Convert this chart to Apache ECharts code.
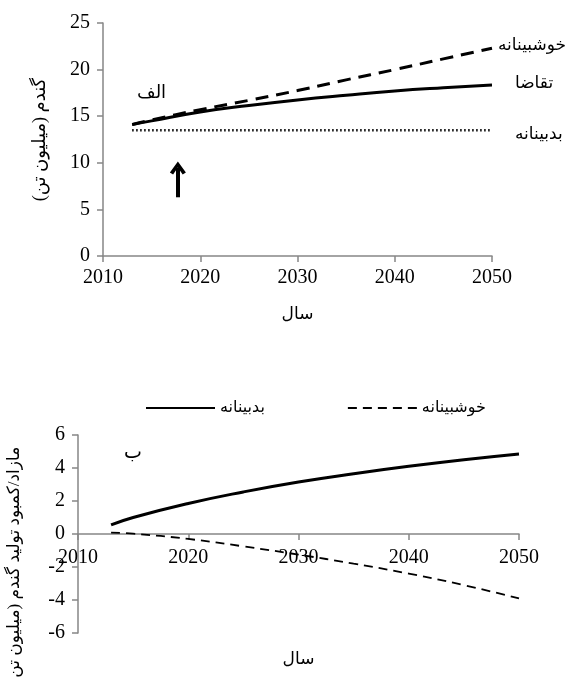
<!DOCTYPE html>
<html><head><meta charset="utf-8">
<script src="https://cdn.jsdelivr.net/npm/echarts@6/dist/echarts.min.js"></script>
<style>html,body{margin:0;padding:0;background:#fff}#c{width:570px;height:678px}</style>
</head><body><div id="c"></div>
<script>
// ---- data ----
const years = [2013, 2015, 2020, 2025, 2030, 2035, 2040, 2045, 2050];
const demand = [14.1, 14.5, 15.45, 16.15, 16.75, 17.25, 17.7, 18.05, 18.35];
const optimistic = [14.1, 14.6, 15.7, 16.7, 17.75, 18.9, 20.0, 21.15, 22.3];
const pessimistic = [13.5, 13.5, 13.5, 13.5, 13.5, 13.5, 13.5, 13.5, 13.5];
const gapPessimistic = [0.55, 1.0, 1.85, 2.55, 3.15, 3.65, 4.1, 4.5, 4.85];
const gapOptimistic = [0.08, 0.02, -0.3, -0.75, -1.25, -1.8, -2.4, -3.1, -3.9];
const labelOptimistic = 'خوشبینانه';
const labelDemand = 'تقاضا';
const labelPessimistic = 'بدبینانه';
const xName = 'سال';
const yNameTop = 'گندم (میلیون تن)';
const yNameBottom = 'مازاد/کمبود تولید گندم (میلیون تن)';
const panelA = 'الف';
const panelB = 'ب';
const arrowFrom = [2017.7, 6.3];
const arrowTo = [2017.7, 9.45];

const pairs = (xs, ys) => xs.map((x, i) => [x, ys[i]]);
const NUM = "'Liberation Serif', 'DejaVu Serif', serif";
const AR = "'Liberation Serif', 'DejaVu Sans', sans-serif";
const axisGray = '#868686';

function xAxisCfg(gridIndex, nameGap, margin, offset) {
  return {
    type: 'value', gridIndex, min: 2010, max: 2050, interval: 10,
    offset,
    axisLine: { show: true, onZero: false, lineStyle: { color: axisGray, width: 1.5 } },
    axisTick: { show: true, length: 6, lineStyle: { color: axisGray, width: 1.5 } },
    axisLabel: { color: '#000', fontFamily: NUM, fontSize: 20, margin, hideOverlap: false, formatter: v => String(v) },
    splitLine: { show: false },
    name: xName, nameLocation: 'middle', nameGap,
    nameTextStyle: { color: '#000', fontFamily: AR, fontSize: 17 }
  };
}

const chart = echarts.init(document.getElementById('c'));
chart.setOption({
  animation: false,
  backgroundColor: '#fff',
  grid: [
    { left: 103, top: 23, width: 389, height: 233, outerBoundsMode: 'none', containLabel: false },
    { left: 78, top: 435, width: 441, height: 198, outerBoundsMode: 'none', containLabel: false }
  ],
  xAxis: [
    xAxisCfg(0, 50, 12, 0),
    xAxisCfg(1, 117, 14, -99)
  ],
  yAxis: [
    {
      type: 'value', gridIndex: 0, min: 0, max: 25, interval: 5,
      axisLine: { show: true, lineStyle: { color: axisGray, width: 1.5 } },
      axisTick: { show: true, length: 6, lineStyle: { color: axisGray, width: 1.5 } },
      axisLabel: { color: '#000', fontFamily: NUM, fontSize: 20, margin: 13 },
      splitLine: { show: false },
      name: yNameTop, nameLocation: 'middle', nameGap: 54, nameRotate: 90,
      nameTextStyle: { color: '#000', fontFamily: AR, fontSize: 18 }
    },
    {
      type: 'value', gridIndex: 1, min: -6, max: 6, interval: 2,
      axisLine: { show: true, onZero: false, lineStyle: { color: axisGray, width: 1.5 } },
      axisTick: { show: true, length: 6, lineStyle: { color: axisGray, width: 1.5 } },
      axisLabel: { color: '#000', fontFamily: NUM, fontSize: 20, margin: 13 },
      splitLine: { show: false }
    }
  ],
  legend: {
    left: 140, top: 395, itemWidth: 69, itemHeight: 14, itemGap: 82,
    data: ['b-pess', 'b-opt'],
    itemStyle: { opacity: 0, borderWidth: 0 },
    formatter: n => n === 'b-pess' ? labelPessimistic : labelOptimistic,
    textStyle: { color: '#000', fontFamily: AR, fontSize: 16 }
  },
  graphic: [
    { type: 'text', left: 137, top: 84, style: { text: panelA, fontFamily: AR, fontSize: 18, fill: '#000' } },
    { type: 'text', left: 124, top: 444, style: { text: panelB, fontFamily: AR, fontSize: 19, fill: '#000' } },
    { type: 'text', x: 15, y: 565, rotation: Math.PI / 2,
      style: { text: yNameBottom, fontFamily: AR, fontSize: 17, fill: '#000', align: 'center', verticalAlign: 'middle' } }
  ],
  series: [
    {
      name: 't-opt', type: 'line', xAxisIndex: 0, yAxisIndex: 0, smooth: true, symbol: 'none',
      data: pairs(years, optimistic),
      lineStyle: { color: '#000', width: 3, type: [13, 8] },
      endLabel: { show: true, formatter: () => labelOptimistic, color: '#000', fontFamily: AR, fontSize: 17, distance: 6, offset: [0, -3] }
    },
    {
      name: 't-dem', type: 'line', xAxisIndex: 0, yAxisIndex: 0, smooth: true, symbol: 'none',
      data: pairs(years, demand),
      lineStyle: { color: '#000', width: 3 },
      endLabel: { show: true, formatter: () => labelDemand, color: '#000', fontFamily: AR, fontSize: 17, distance: 23, offset: [0, -1] }
    },
    {
      name: 't-pess', type: 'line', xAxisIndex: 0, yAxisIndex: 0, symbol: 'none',
      data: pairs(years, pessimistic),
      lineStyle: { color: '#000', width: 2.5, type: [1.5, 2.5] },
      endLabel: { show: true, formatter: () => labelPessimistic, color: '#000', fontFamily: AR, fontSize: 17, distance: 23, offset: [0, 4] },
      markLine: {
        silent: true, animation: false,
        symbol: ['none', 'path://M0,9 L5,0 L10,9 L8,10.5 L5,5 L2,10.5 Z'],
        symbolSize: [16, 13],
        label: { show: false },
        lineStyle: { color: '#000', width: 4, type: 'solid' },
        data: [[{ coord: arrowFrom }, { coord: arrowTo }]]
      }
    },
    {
      name: 'b-pess', type: 'line', xAxisIndex: 1, yAxisIndex: 1, smooth: true, symbol: 'none',
      data: pairs(years, gapPessimistic),
      itemStyle: { color: '#000' },
      lineStyle: { color: '#000', width: 3 }
    },
    {
      name: 'b-opt', type: 'line', xAxisIndex: 1, yAxisIndex: 1, smooth: true, symbol: 'none',
      data: pairs(years, gapOptimistic),
      itemStyle: { color: '#000' },
      lineStyle: { color: '#000', width: 1.8, type: [9, 6] }
    }
  ]
});
</script></body></html>
